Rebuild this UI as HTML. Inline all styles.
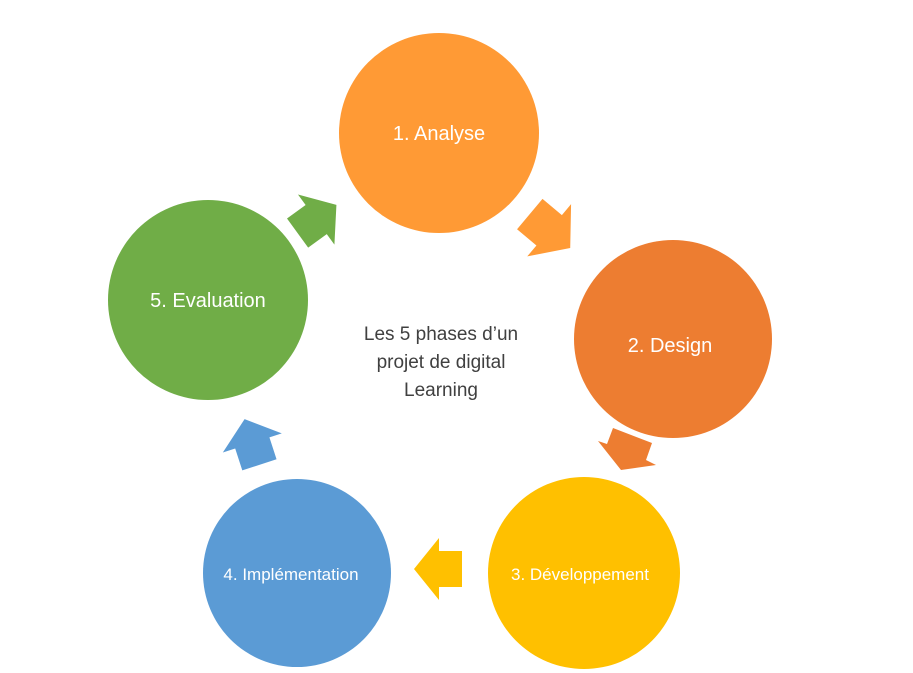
<!DOCTYPE html>
<html><head><meta charset="utf-8"><style>
body{margin:0;background:#fff;}
svg{display:block;font-family:"Liberation Sans","DejaVu Sans",sans-serif;}
</style></head><body>
<svg width="913" height="673" viewBox="0 0 913 673">
<defs>
<polygon id="ar" points="-24,-18 -1,-18 -1,-31 24,0 -1,31 -1,18 -24,18"/>
</defs>
<circle cx="439" cy="133" r="100" fill="#FF9A35"/>
<circle cx="673" cy="339" r="99" fill="#ED7D31"/>
<circle cx="584" cy="573" r="96" fill="#FFC000"/>
<circle cx="297" cy="573" r="94" fill="#5B9BD5"/>
<circle cx="208" cy="300" r="100" fill="#70AD47"/>
<use href="#ar" fill="#FF9A35" transform="translate(550,231) rotate(40) scale(1.1)"/>
<polygon fill="#ED7D31" points="613,428 652,443 646,460 656,465 621,470 598,441 607,444"/>
<use href="#ar" fill="#FFC000" transform="translate(438,569) rotate(180)"/>
<use href="#ar" fill="#5B9BD5" transform="translate(252,442) rotate(-108) scale(1.0)"/>
<use href="#ar" fill="#70AD47" transform="translate(317,219) rotate(-36) scale(1.0)"/>
<g fill="#fff" text-anchor="middle" font-size="20">
<text x="439" y="140">1. Analyse</text>
<text x="670" y="352">2. Design</text>
<text x="580" y="580" font-size="17">3. Développement</text>
<text x="291" y="580" font-size="17">4. Implémentation</text>
<text x="208" y="307">5. Evaluation</text>
</g>
<g fill="#404040" text-anchor="middle" font-size="19">
<text x="441" y="340">Les 5 phases d’un</text>
<text x="441" y="368">projet de digital</text>
<text x="441" y="396">Learning</text>
</g>
</svg>
</body></html>
